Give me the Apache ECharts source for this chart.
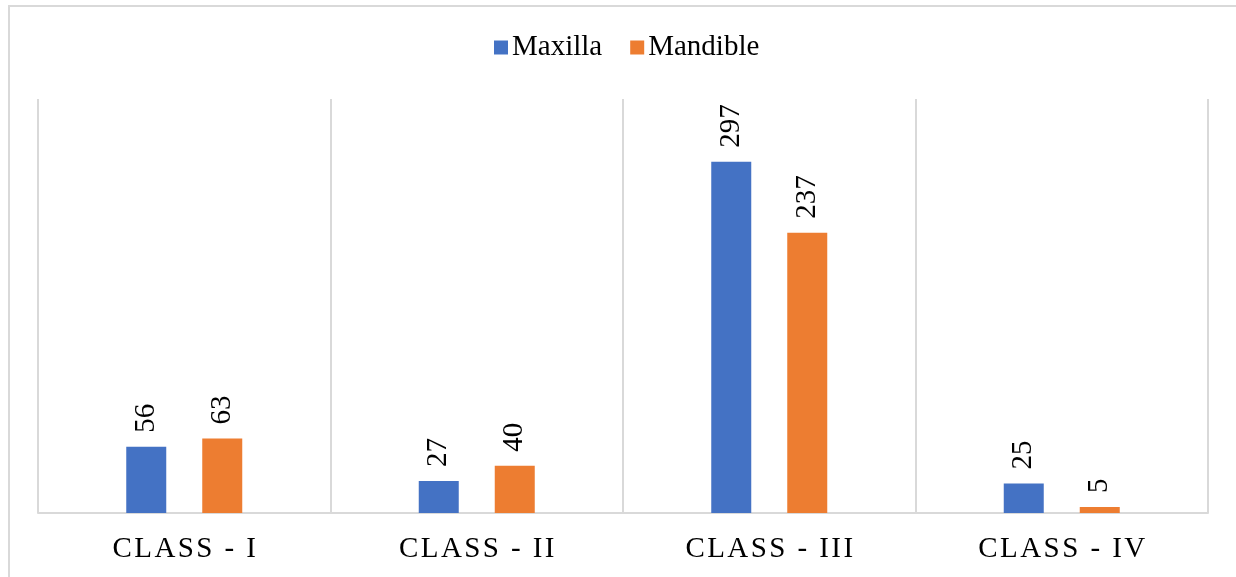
<!DOCTYPE html>
<html>
<head>
<meta charset="utf-8">
<script src="https://cdn.jsdelivr.net/npm/echarts@6/dist/echarts.min.js"></script>
<style>
  html, body { margin: 0; padding: 0; background: #ffffff; }
  #chart { width: 1236px; height: 577px; }
</style>
</head>
<body>
<div id="chart"></div>
<script>
// Kennedy classes and counts per arch
const categories = ['CLASS - I', 'CLASS - II', 'CLASS - III', 'CLASS - IV'];
const maxilla = [56, 27, 297, 25];
const mandible = [63, 40, 237, 5];
const seriesNames = ['Maxilla', 'Mandible'];

const FONT = '"Liberation Serif", "Times New Roman", serif';
const GRID = '#d9d9d9';

// spread the letters of the class labels apart with hair spaces
const spaced = s => s.split('').join('\u200A');

const labelStyle = {
  show: true,
  position: 'top',
  rotate: 90,
  align: 'left',
  verticalAlign: 'middle',
  distance: 14,
  color: '#000',
  fontFamily: FONT,
  fontSize: 29
};

const chart = echarts.init(document.getElementById('chart'), null, { renderer: 'canvas' });
chart.setOption({
  animation: false,
  backgroundColor: '#ffffff',
  legend: {
    top: 28,
    left: 489,
    itemWidth: 14,
    itemHeight: 14,
    itemGap: 28,
    icon: 'rect',
    textStyle: { color: '#000', fontFamily: FONT, fontSize: 29, padding: [0, 0, 0, -1] },
    data: seriesNames
  },
  grid: { left: 38, right: 28, top: 99, bottom: 64, containLabel: false },
  xAxis: {
    type: 'category',
    data: categories,
    boundaryGap: true,
    axisLine: { show: true, lineStyle: { color: GRID, width: 2 } },
    axisTick: { show: false },
    splitLine: { show: true, lineStyle: { color: GRID, width: 2 } },
    axisLabel: {
      color: '#000',
      fontFamily: FONT,
      fontSize: 29,
      margin: 22,
      formatter: v => spaced(v)
    }
  },
  yAxis: {
    type: 'value',
    min: 0,
    max: 350,
    show: false,
    splitLine: { show: false }
  },
  series: [
    {
      name: seriesNames[0],
      type: 'bar',
      data: maxilla,
      barWidth: 40,
      barGap: '90%',
      itemStyle: { color: '#4472c4' },
      label: labelStyle
    },
    {
      name: seriesNames[1],
      type: 'bar',
      data: mandible,
      barWidth: 40,
      barGap: '90%',
      itemStyle: { color: '#ed7d31' },
      label: labelStyle
    }
  ],
  graphic: [
    {
      type: 'rect',
      silent: true,
      shape: { x: 9, y: 6, width: 1240, height: 600 },
      style: { fill: 'none', stroke: GRID, lineWidth: 2 }
    }
  ]
});
</script>
</body>
</html>
